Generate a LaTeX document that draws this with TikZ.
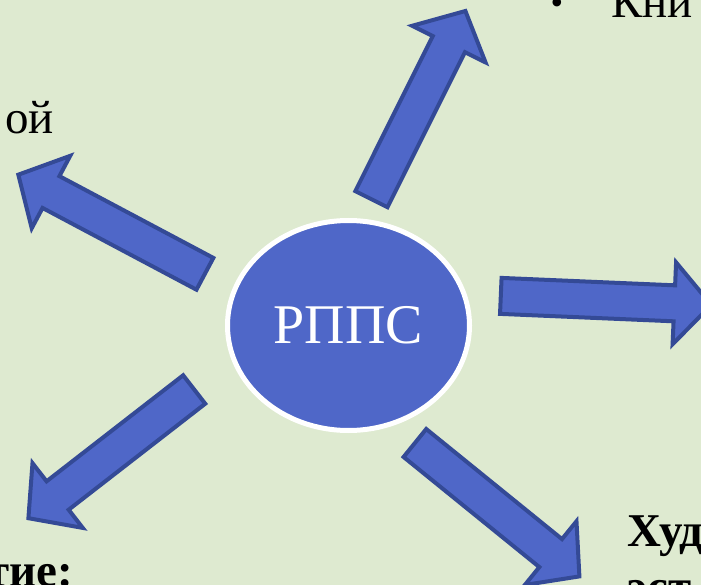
\documentclass[tikz,border=0pt]{standalone}
\usepackage{fontspec}
\setmainfont{Liberation Serif}
\usetikzlibrary{calc,shapes.geometric}
\definecolor{bg}{HTML}{DEEAD0}
\definecolor{arrfill}{HTML}{4F67C8}
\definecolor{arrline}{HTML}{344A96}
\tikzset{
  blockarrow/.style={fill=arrfill, draw=arrline, line width=4pt, line join=miter},
  centre/.style={ellipse, minimum width=242pt, minimum height=210pt, inner sep=0pt,
    fill=arrfill, draw=white, line width=5pt, text=white,
    font=\fontsize{56}{64}\selectfont},
  sidetext/.style={inner sep=0pt, text=black, font=\fontsize{47}{54}\selectfont},
  sidebold/.style={sidetext, font=\fontsize{47}{54}\selectfont\bfseries},
}
% #1 tail, #2 tip, #3 half shaft width, #4 half head width, #5 head length
\newcommand{\mkarrow}[5]{%
  \coordinate (H#1) at ($(#2)!#5!(#1)$);
  \draw[blockarrow]
    ($(#1)!#3!90:(#2)$) -- ($(H#1)!#3!90:(#2)$) -- ($(H#1)!#4!90:(#2)$) --
    (#2) --
    ($(H#1)!#4!-90:(#2)$) -- ($(H#1)!#3!-90:(#2)$) -- ($(#1)!#3!-90:(#2)$) -- cycle;
}
\begin{document}
\begin{tikzpicture}[x=1pt,y=-1pt]
\useasboundingbox (0,0) rectangle (701,585);
\fill[bg] (0,0) rectangle (701,585);
% arrow coordinates
\coordinate (tA) at (371.4,199.2); \coordinate (pA) at (465.4,11.0);
\coordinate (tB) at (204.9,273.8); \coordinate (pB) at (18.3,174.7);
\coordinate (tC) at (500.8,295.9); \coordinate (pC) at (711.3,304.9);
\coordinate (tD) at (194.2,389.5); \coordinate (pD) at (28.4,518.2);
\coordinate (tE) at (414.9,443.0); \coordinate (pE) at (579.4,576.4);
\mkarrow{tA}{pA}{18pt}{41pt}{37pt}
\mkarrow{tB}{pB}{18pt}{41pt}{37pt}
\mkarrow{tC}{pC}{18pt}{41pt}{37pt}
\mkarrow{tD}{pD}{18pt}{41pt}{37pt}
\mkarrow{tE}{pE}{18pt}{41pt}{37pt}
\node[centre] (c) at (348.5,325.5) {РППС};
% side texts (cut by the picture's edges)
\node[sidetext, anchor=base, font=\fontsize{36}{40}\selectfont] (bul) at (557,15) {•};
\node[sidetext, anchor=base west] (kn) at (611,18) {Кни};
\node[sidetext, anchor=base east] (oy) at (54,133.5) {ой};
\node[sidebold, anchor=base east] (tie) at (73,586) {тие:};
\node[sidebold, anchor=base west] (hud) at (627,546.7) {Худ};
\node[sidebold, anchor=base west] (est) at (627,602) {эст};
\end{tikzpicture}
\end{document}
